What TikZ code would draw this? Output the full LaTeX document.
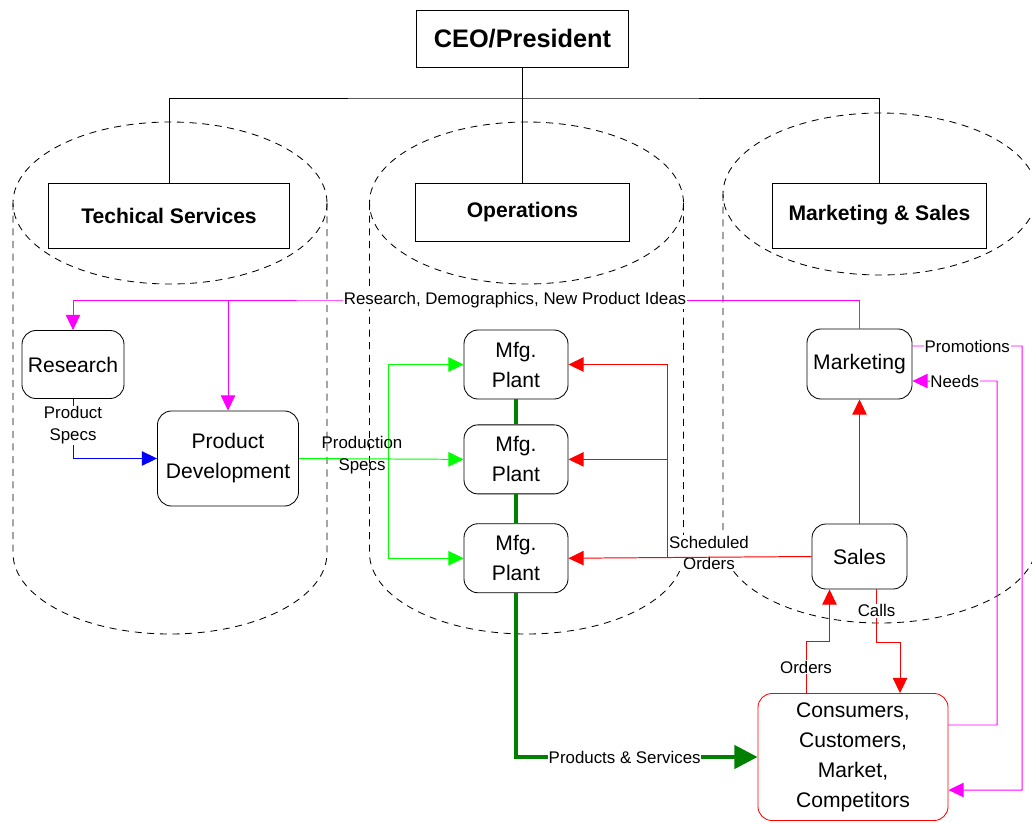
\documentclass[tikz,border=0pt]{standalone}
\usepackage{fontspec}
\setmainfont{Liberation Sans}
\usetikzlibrary{arrows.meta, positioning, calc}
\definecolor{pinkline}{RGB}{255,0,255}
\definecolor{greenline}{RGB}{0,255,0}
\definecolor{goodsline}{RGB}{0,128,0}

\begin{document}
\begin{tikzpicture}[
    x=0.025cm, y=-0.025cm,
    head/.style={rectangle, draw, fill=white, line width=0.7pt, align=center, font=\bfseries\fontsize{15}{18}\selectfont},
    unit/.style={rectangle, draw, rounded corners=0.35cm, fill=white, line width=0.6pt, align=center, font=\fontsize{15}{21.3}\selectfont},
    plant/.style={unit, minimum width=2.6cm, minimum height=1.725cm},
    lbl/.style={fill=white, text=black, inner sep=0.5pt, align=center, font=\fontsize{12}{15.5}\selectfont},
    flow/.style={-{Triangle[length=3.8mm, width=3.6mm]}, line width=0.7pt},
    bigflow/.style={-{Triangle[length=5.8mm, width=5.8mm]}, line width=2.8pt, goodsline},
    zone/.style={dash pattern=on 5pt off 4pt, line width=0.6pt}
]
\useasboundingbox (0,0) rectangle (1032,822);

% Divisions
\foreach \cx/\ty/\by in {170/203/553, 526.5/203/553, 880/194/542}{
  \draw[zone] (\cx,\ty) ellipse [x radius=157, y radius=81];
  \draw[zone] (\cx-157,\ty) -- (\cx-157,\by) arc [start angle=180, end angle=0, x radius=157, y radius=81] -- (\cx+157,\ty);
}

% Org chart
\node[head, minimum width=5.275cm, minimum height=1.425cm, font=\bfseries\fontsize{18}{21}\selectfont] (ceo) at (522.5,38.5) {CEO/President};
\node[head, minimum width=6.025cm, minimum height=1.625cm] (tech) at (169,215.5) {Techical Services};
\node[head, minimum width=5.325cm, minimum height=1.45cm] (ops) at (522.5,212) {Operations};
\node[head, minimum width=5.325cm, minimum height=1.625cm] (mks) at (879.5,215.5) {Marketing \& Sales};
\coordinate (hub) at (522.5,98);
\draw[line width=0.7pt] (ceo) -- (ops);
\draw[line width=0.7pt] (tech.north) |- (hub) -| (mks.north);

% Nodes
\node[unit, minimum width=2.55cm, minimum height=1.7cm] (res) at (73,364.5) {Research};
\node[unit, minimum width=3.525cm, minimum height=2.375cm] (pd) at (228,458.5) {Product\\Development};
\node[plant] (plant1) at (516,364.5) {Mfg.\\Plant};
\node[plant, below=0.625cm of plant1] (plant2) {Mfg.\\Plant};
\node[plant, below=0.725cm of plant2] (plant3) {Mfg.\\Plant};
\node[unit, minimum width=2.625cm, minimum height=1.75cm] (mkt) at (859.5,364) {Marketing};
\node[unit, minimum width=2.375cm, minimum height=1.625cm] (sales) at (859.5,556.5) {Sales};
\node[unit, draw=red, minimum width=4.75cm, minimum height=3.175cm] (cons) at (853,757) {Consumers,\\Customers,\\Market,\\Competitors};

% Arrows
\coordinate (ideas) at (515,300);
\draw[flow, pinkline] (mkt.north) |- (ideas) -| (res.north);
\draw[flow, pinkline] (ideas -| pd.north) -- (pd.north);
\node[lbl] (ideasLbl) at (ideas) {Research, Demographics, New Product Ideas};

\draw[flow, blue] (res.south) |- node[lbl, pos=0.22] (specLbl) {Product\\Specs} (pd.west);

\coordinate (spec) at (388,458.5);
\draw[flow, greenline] (pd.east) -- (plant2.west);
\draw[flow, greenline] (spec) |- (plant1.west);
\draw[flow, greenline] (spec) |- (plant3.west);
\node[align=center, inner sep=0pt, font=\fontsize{12}{15.5}\selectfont] (prodLbl) at (362,455) {Production\\Specs};

\draw[line width=2.8pt, goodsline] (plant1) -- (plant2) (plant2) -- (plant3);
\draw[bigflow] (plant3.south) |- node[lbl, pos=0.725] (psLbl) {Products \& Services} (cons.west);

\node[lbl] (schedLbl) at (709,553) {Scheduled\\Orders};
\coordinate (sched) at (667,556.5);
\draw[flow, red] (sales.west) -- (plant3.east);
\draw[flow, red] (sched) |- (plant1.east);
\draw[flow, red] (sched) |- (plant2.east);
\draw[flow, red] (sales) -- (mkt);

\draw[flow, red] ([xshift=-1.175cm]cons.north) -- node[lbl] (ordLbl) {Orders} ++(0,-52) -| ([xshift=-0.75cm]sales.south);
\draw[flow, red] ([xshift=0.425cm]sales.south) -- node[lbl, pos=0.4] (callLbl) {Calls} ++(0,53) -| ([xshift=1.175cm]cons.north);

\coordinate (promoR) at (1022,346);
\coordinate (promoB) at (1022,790);
\draw[flow, pinkline] ([yshift=0.45cm]mkt.east) -- node[lbl] (promoLbl) {Promotions} (promoR) -- (promoB) -- ([yshift=-0.825cm]cons.east);
\coordinate (needR) at (997,381);
\draw[flow, pinkline] ([yshift=0.8cm]cons.east) -| (needR) -- node[lbl] (needLbl) {Needs} ([yshift=-0.425cm]mkt.east);

\end{tikzpicture}
\end{document}
